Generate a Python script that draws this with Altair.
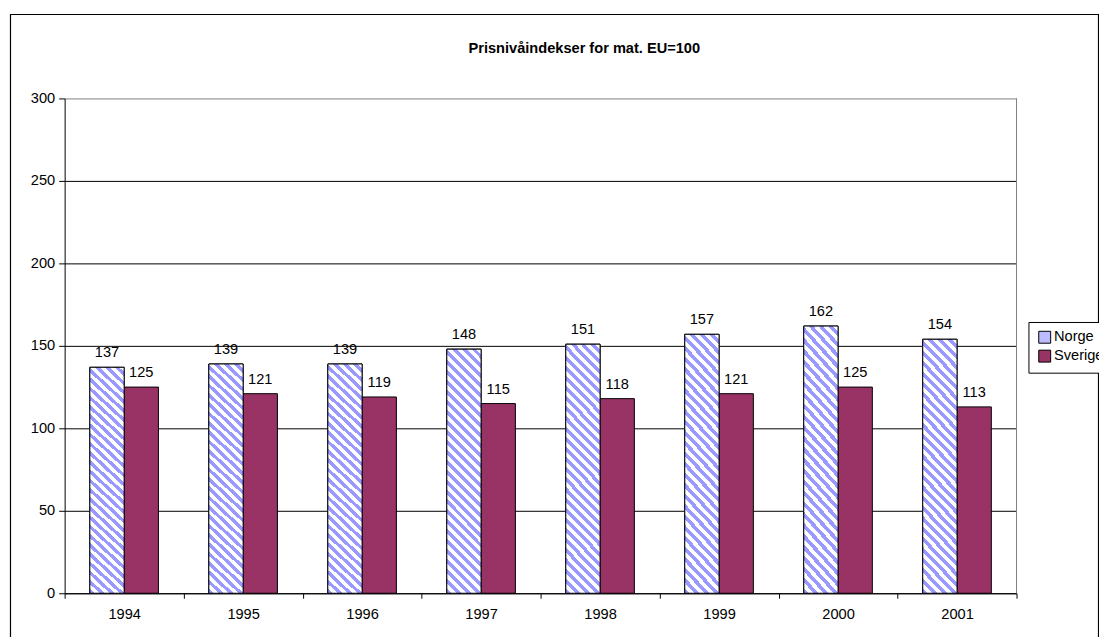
import altair as alt
import pandas as pd

years = ["1994", "1995", "1996", "1997", "1998", "1999", "2000", "2001"]
norge = [137, 139, 139, 148, 151, 157, 162, 154]
sverige = [125, 121, 119, 115, 118, 121, 125, 113]
series = ["Norge", "Sverige"]
y_ticks = [0, 50, 100, 150, 200, 250, 300]
title_text = "Prisnivåindekser for mat. EU=100"

rows = []
for i, yr in enumerate(years):
    rows.append({"year": yr, "series": "Norge", "value": norge[i]})
    rows.append({"year": yr, "series": "Sverige", "value": sverige[i]})
df = pd.DataFrame(rows)

FONT = "Liberation Sans, Arial, sans-serif"
FS = 14.7
W, H = 958, 498

# diagonal stripe pattern (approximated with a hard-stop linear gradient)
bw, bh = 34.5, 245.0
a = bw / bh
k = (1 + a) / (1 + a * a)
x2g, y2g = a * k, 1 - k
n_periods = 28
stops = []
for i in range(n_periods):
    o0 = i / n_periods
    o1 = (i + 0.5) / n_periods
    o2 = (i + 1) / n_periods
    stops += [
        {"offset": o0, "color": "#9999FF"},
        {"offset": o1, "color": "#9999FF"},
        {"offset": o1, "color": "#FFFFFF"},
        {"offset": o2, "color": "#FFFFFF"},
    ]
stripes = {"gradient": "linear", "x1": 0, "y1": 1, "x2": x2g, "y2": y2g, "stops": stops}

x_enc = alt.X(
    "year:N",
    sort=years,
    scale=alt.Scale(paddingInner=0, paddingOuter=0),
    axis=alt.Axis(
        title=None, labelAngle=0, tickBand="extent", grid=False,
        domainColor="black", tickColor="black", tickSize=5,
        labelFont=FONT, labelFontSize=FS, labelColor="black", labelPadding=8,
    ),
)
xo_enc = alt.XOffset(
    "series:N",
    scale=alt.Scale(domain=series, paddingOuter=0.735, paddingInner=0),
)
y_enc = alt.Y(
    "value:Q",
    scale=alt.Scale(domain=[0, 300], nice=False),
    axis=alt.Axis(
        title=None, values=y_ticks, grid=True,
        gridColor={"condition": {"test": "datum.value == 300", "value": "#808080"}, "value": "black"},
        domainColor="black", tickColor="black", tickSize=6,
        labelFont=FONT, labelFontSize=FS, labelColor="black", labelPadding=4,
    ),
)

base = alt.Chart(df)

bars = base.mark_bar(stroke="black", strokeWidth=1).encode(
    x=x_enc,
    xOffset=xo_enc,
    y=y_enc,
    color=alt.Color(
        "series:N",
        scale=alt.Scale(domain=series, range=["#BBBBFF", "#993366"]),
        legend=alt.Legend(
            title=None, orient="none", legendX=970, legendY=225,
            strokeColor="black", fillColor="white", padding=8,
            symbolType="square", symbolSize=144, symbolStrokeColor="black",
            symbolStrokeWidth=1, symbolOffset=1,
            labelFont=FONT, labelFontSize=FS, labelColor="black",
            labelOffset=2, rowPadding=2,
        ),
    ),
)

norge_bars = base.transform_filter(alt.datum.series == "Norge").mark_bar(
    stroke="black", strokeWidth=1, fill=stripes
).encode(x=x_enc, xOffset=xo_enc, y=y_enc)

labels = base.mark_text(
    dy=-10, baseline="alphabetic", font=FONT, fontSize=FS, color="black"
).encode(x=x_enc, xOffset=xo_enc, y=y_enc, text=alt.Text("value:Q"))

one = pd.DataFrame({"t": [title_text]})
title_mark = alt.Chart(one).mark_text(
    font=FONT, fontSize=FS, fontWeight="bold", color="black",
    align="center", baseline="alphabetic",
).encode(x=alt.value(523), y=alt.value(-46), text="t:N")
right_border = alt.Chart(one).mark_rule(color="#808080", strokeWidth=1).encode(
    x=alt.value(W), y=alt.value(0), y2=alt.value(H)
)
frame = alt.Chart(one).mark_rect(filled=False, stroke="black", strokeWidth=1.2, color="black").encode(
    x=alt.value(-54.5), x2=alt.value(1040.5), y=alt.value(-84.5), y2=alt.value(600)
)

chart = alt.layer(bars, norge_bars, labels, right_border, frame, title_mark).properties(
    width=W,
    height=H,
    autosize=alt.AutoSizeParams(type="none"),
    padding={"left": 57, "top": 89, "right": 83, "bottom": 42},
).configure_view(strokeWidth=0)

chart.save("out.html", embed_options={"renderer": "svg", "actions": False})
